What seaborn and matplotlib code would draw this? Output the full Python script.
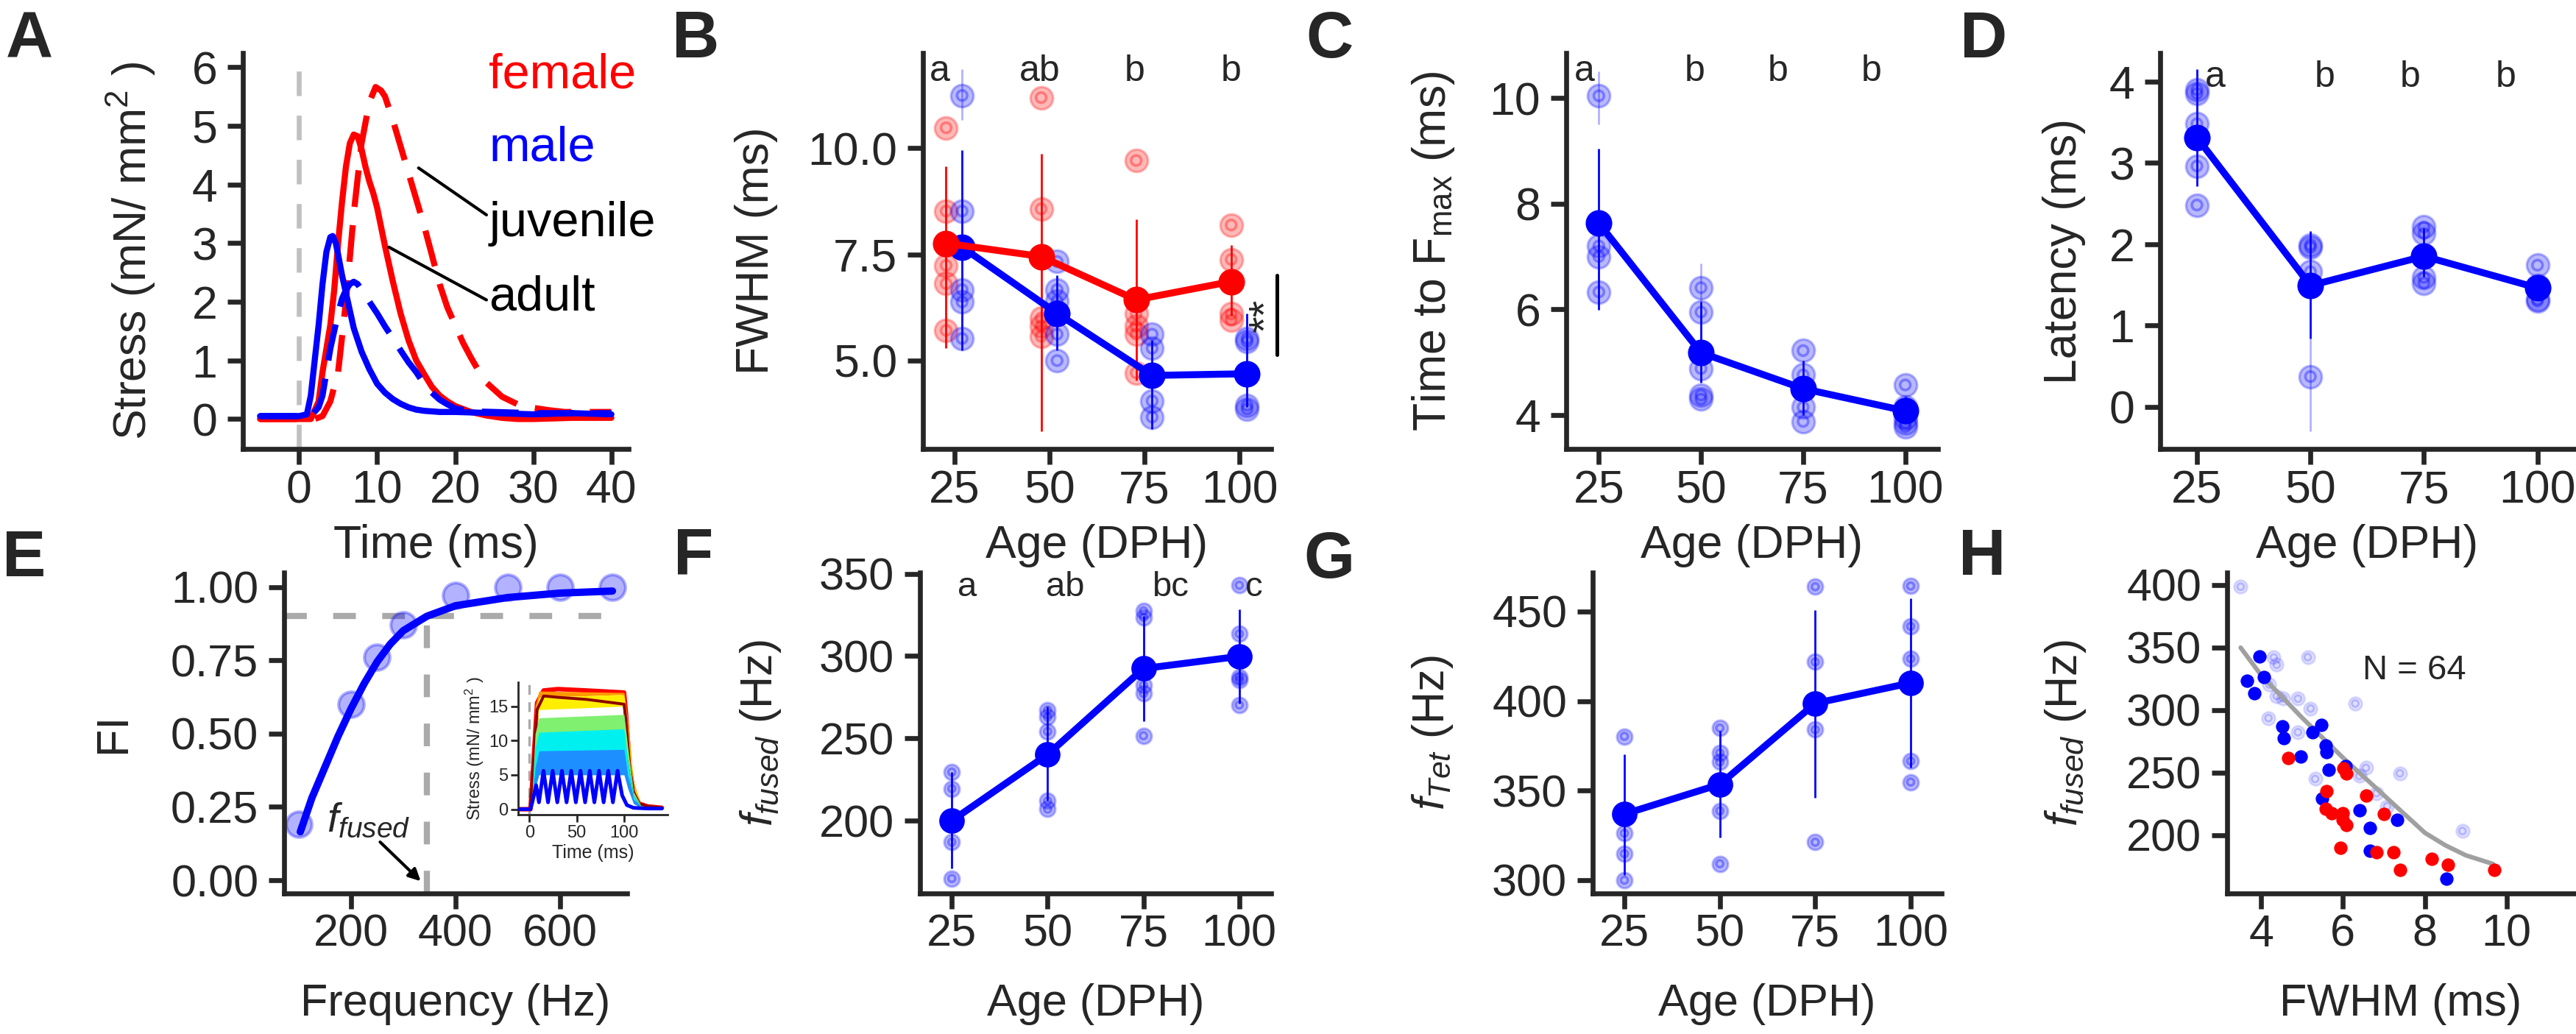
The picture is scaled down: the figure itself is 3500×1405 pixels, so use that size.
import numpy as np
import pandas as pd
import matplotlib
matplotlib.use('Agg')
import matplotlib.pyplot as plt
import seaborn as sns

# --- DATA ---
ages = [25, 50, 75, 100]

# A: twitch traces (time in ms, stress in mN/mm2)
a_fa_t = [-5, 0, 1.5, 2.5, 3.0, 3.5, 4.0, 4.5, 5.0, 5.5, 6.0, 6.5, 7.0, 7.5, 8.0, 8.5, 9.0, 9.5, 10, 11, 12, 13, 14, 15, 16, 17, 18, 19, 20, 22, 24, 26, 28, 30, 35, 40]
a_fa_y = [0, 0, 0, 0.3, 0.8, 1.2, 1.6, 2.2, 3.0, 3.7, 4.3, 4.7, 4.85, 4.82, 4.6, 4.3, 4.05, 3.85, 3.6, 2.95, 2.35, 1.8, 1.35, 1.0, 0.77, 0.55, 0.4, 0.3, 0.22, 0.12, 0.06, 0.02, 0.0, 0.0, 0.02, 0.02]
a_fj_t = [-5, 0, 2, 3, 4, 5, 6, 7, 8, 9, 9.8, 10.5, 11, 12, 13, 14, 15, 16, 17, 18, 19, 20, 21, 22, 23, 24, 26, 28, 30, 32, 34, 36, 38, 40]
a_fj_y = [0, 0, 0, 0.05, 0.3, 0.8, 2.0, 3.5, 4.7, 5.4, 5.66, 5.6, 5.5, 5.1, 4.65, 4.2, 3.75, 3.3, 2.8, 2.3, 1.9, 1.6, 1.3, 1.05, 0.82, 0.62, 0.38, 0.25, 0.19, 0.15, 0.12, 0.12, 0.12, 0.12]
a_ma_t = [-5, 0, 1, 1.5, 2, 2.5, 3, 3.5, 4, 4.3, 4.7, 5, 5.5, 6, 6.5, 7, 8, 9, 10, 11, 12, 13, 14, 15, 16, 18, 20, 25, 30, 35, 40]
a_ma_y = [0.05, 0.05, 0.08, 0.4, 1.0, 1.6, 2.3, 2.85, 3.1, 3.12, 3.0, 2.8, 2.45, 2.15, 1.85, 1.55, 1.15, 0.85, 0.6, 0.45, 0.34, 0.26, 0.2, 0.16, 0.14, 0.12, 0.12, 0.1, 0.08, 0.1, 0.08]
a_mj_t = [-5, 0, 1.5, 2.5, 3, 3.5, 4, 4.5, 5, 5.5, 6, 6.5, 7, 7.5, 8, 9, 10, 11, 12, 13, 14, 15, 16, 17, 18, 19, 20, 22, 25, 30, 35, 40]
a_mj_y = [0.05, 0.05, 0.05, 0.2, 0.4, 0.8, 1.2, 1.5, 1.8, 2.05, 2.2, 2.3, 2.34, 2.3, 2.2, 2.0, 1.8, 1.58, 1.38, 1.17, 0.97, 0.8, 0.6, 0.45, 0.33, 0.25, 0.18, 0.13, 0.12, 0.1, 0.1, 0.1]

# B: FWHM, female (red) and male (blue)
b_red_mean = [7.76, 7.45, 6.43, 6.86]
b_red_lo = [5.29, 3.33, 4.53, 6.05]
b_red_hi = [9.57, 9.86, 8.33, 7.71]
b_blue_mean = [7.67, 6.11, 4.65, 4.69]
b_blue_lo = [5.24, 5.24, 3.38, 3.9]
b_blue_hi = [9.95, 7.0, 5.48, 6.1]
b_red_pts_age = [25] * 6 + [50] * 5 + [75] * 5 + [100] * 4
b_red_pts = [10.48, 8.52, 7.71, 7.24, 6.81, 5.71, 11.19, 8.57, 6.0, 5.81, 5.57,
             9.71, 6.1, 5.81, 5.62, 4.71, 8.19, 7.38, 6.1, 5.95]
b_blue_pts_age = [25] * 5 + [50] * 5 + [75] * 4 + [100] * 4
b_blue_pts = [11.24, 8.52, 6.67, 6.38, 5.52, 7.33, 6.67, 6.4, 5.62, 5.0,
              5.62, 5.29, 4.05, 3.67, 5.52, 5.45, 3.95, 3.86]
b_letters = ['a', 'ab', 'b', 'b']
b_letter_x = [21.1, 47.4, 72.5, 97.7]

# C: time to Fmax
c_mean = [7.63, 5.18, 4.5, 4.08]
c_lo = [5.99, 4.61, 4.0, 3.85]
c_hi = [9.04, 6.14, 5.03, 4.35]
c_pts_age = [25] * 4 + [50] * 5 + [75] * 5 + [100] * 5
c_pts = [10.04, 7.2, 7.0, 6.33, 6.41, 5.95, 4.88, 4.38, 4.3,
         5.22, 4.76, 4.5, 4.15, 3.88, 4.57, 4.15, 3.95, 3.85, 3.78]
c_letters = ['a', 'b', 'b', 'b']
c_letter_x = [21.4, 48.4, 68.8, 91.8]

# D: latency
d_mean = [3.31, 1.49, 1.85, 1.46]
d_lo = [2.71, 0.84, 1.6, 1.38]
d_hi = [4.15, 2.16, 2.2, 1.55]
d_pts_age = [25] * 5 + [50] * 4 + [75] * 4 + [100] * 4
d_pts = [3.9, 3.85, 3.48, 2.96, 2.48, 1.99, 1.96, 1.66, 0.37,
         2.21, 2.13, 1.59, 1.52, 1.74, 1.49, 1.32, 1.3]
d_letters = ['a', 'b', 'b', 'b']
d_letter_x = [29, 53.2, 71.9, 93]

# faint whiskers of single animals (age, low, high)
b_faint = [(27.0, 10.67, 11.86)]
c_faint = [(25, 9.5, 10.5), (50, 6.1, 6.87)]
d_faint = [(50, -0.3, 0.84)]

# E: fusion index vs frequency
e_freq = [100, 200, 250, 300, 400, 500, 600, 700]
e_fi = [0.19, 0.60, 0.76, 0.87, 0.97, 1.0, 1.0, 1.0]
e_fit_f = [103, 125, 150, 175, 200, 225, 250, 275, 300, 345, 400, 500, 600, 700]
e_fit_fi = [0.165, 0.28, 0.385, 0.49, 0.585, 0.67, 0.745, 0.805, 0.851, 0.9, 0.936, 0.964, 0.979, 0.986]

# E inset: tetanic traces
ins_blue_t = [-10, 1, 3, 7, 10, 14.8, 19.6, 24.5, 29.4, 34.3, 39.2, 44.1, 49, 53.9, 58.8,
              63.7, 68.6, 73.5, 78.4, 83.3, 88.2, 93.1, 98, 103, 110, 125, 140]
ins_blue_y = [0, 0, 1.0, 3.5, 1.0, 5.6, 1.0, 5.6, 1.0, 5.6, 1.0, 5.6, 1.0, 5.6, 1.0,
              5.6, 1.0, 5.6, 1.0, 5.6, 1.0, 5.6, 2.0, 0.6, 0.2, 0.1, 0.1]
ins_band_t = [2, 6, 10, 100, 104, 110, 118, 140]
ins_dodger_lo = [0, 3, 5, 5, 3, 0.8, 0.2, 0.1]
ins_dodger_hi = [0, 6, 8.5, 8.7, 5, 1.5, 0.3, 0.1]
ins_cyan_lo = [0, 5, 8, 8, 5, 1.5, 0.3, 0.1]
ins_cyan_hi = [0, 9, 11.2, 11.7, 7, 2, 0.4, 0.1]
ins_green_lo = [0, 7, 10.5, 10.5, 7, 2, 0.4, 0.1]
ins_green_hi = [0, 11, 13.3, 13.8, 9, 2.5, 0.5, 0.1]
ins_yellow_lo = [0, 10, 14.5, 15, 10, 3, 0.5, 0.1]
ins_yellow_hi = [0, 14, 16.3, 16.7, 12, 3.5, 0.6, 0.1]
ins_orange_lo = [0, 12, 16.3, 16.7, 12, 3.5, 0.6, 0.1]
ins_orange_hi = [0, 15, 17.2, 17.0, 13, 4, 0.7, 0.1]
ins_red_t = [-10, 1, 3, 8, 15, 30, 60, 100, 102, 106, 110, 116, 125, 140]
ins_red_y = [0, 0, 4, 15.5, 17.3, 17.5, 17.3, 17.0, 14, 6, 2.5, 0.8, 0.4, 0.2]
ins_dred_t = [1, 3, 8, 15, 30, 60, 100, 102, 106, 110, 116, 125, 140]
ins_dred_y = [0, 4, 14.5, 16.5, 16.3, 16.0, 15.3, 13, 6, 2.5, 0.8, 0.4, 0.2]

# F: f_fused
f_mean = [200, 240.2, 292.4, 299.8]
f_lo = [170.9, 212, 260.2, 271.3]
f_hi = [229.5, 269.3, 324.5, 328.5]
f_pts_age = [25] * 4 + [50] * 5 + [75] * 5 + [100] * 5
f_pts = [229.5, 219.5, 187, 164.9, 267.3, 262.9, 254.2, 212, 207,
         327.5, 323.5, 282.3, 277.3, 251.6, 343, 313.5, 287.3, 285.3, 270.3]
f_letters = ['a', 'ab', 'bc', 'c']
f_letter_x = [29.0, 54.6, 82.0, 103.8]

# G: f_Tet
g_mean = [336.9, 353.5, 398.7, 410.1]
g_lo = [302.8, 324, 346.1, 362.7]
g_hi = [370.1, 383.4, 450.7, 457.5]
g_pts_age = [25] * 4 + [50] * 5 + [75] * 4 + [100] * 5
g_pts = [380.3, 326.2, 314.8, 300, 384.9, 371, 366, 338.7, 309.2,
         463.8, 421.8, 384, 321.2, 464.2, 441.7, 423.6, 366.5, 354.8]

# H: f_fused vs FWHM
h_blue_x = [3.97, 3.66, 4.07, 3.84, 4.52, 4.56, 4.97, 5.26, 5.47, 5.58, 5.6, 5.66, 6.07, 5.49, 6.4, 6.66, 6.66, 7.32, 8.53]
h_blue_y = [342.9, 323.7, 326.6, 313.4, 287, 277.6, 263.2, 282.4, 288.2, 271.8, 266.6, 252.1, 255.5, 229.2, 219.7, 206, 187.6, 212.1, 165.3]
h_red_x = [4.67, 6.01, 6.09, 5.6, 6.56, 5.58, 5.73, 5.99, 5.99, 6.09, 7.0, 5.94, 6.82, 7.23, 7.39, 8.17, 8.56, 9.7]
h_red_y = [261.8, 253.4, 249.5, 235, 231.6, 221, 217.9, 217.9, 212.6, 208.2, 217.1, 189.7, 186.3, 186.3, 172.4, 181, 176.6, 172.6]
h_faint_x = [3.5, 4.31, 4.38, 5.14, 4.2, 4.38, 4.54, 4.9, 5.21, 6.3, 4.18, 4.9, 5.32, 6.4, 6.56, 7.39, 6.82, 7.08, 8.92]
h_faint_y = [398.7, 342.1, 336.3, 342.4, 320.5, 311.3, 309.5, 309.2, 301.3, 305.3, 293.7, 282.4, 245, 247.4, 253.9, 249.5, 233.7, 223.2, 203.4]
h_fit_x = [3.5, 4.0, 4.5, 5.0, 5.5, 6.0, 6.5, 7.0, 7.5, 8.0, 8.5, 9.0, 9.67]
h_fit_y = [350, 328, 311, 294, 278, 262, 247, 232, 217, 202, 192, 184, 177]

# --- STYLE ---
sns.set_style("ticks")
plt.rcParams['font.family'] = ['Liberation Sans', 'DejaVu Sans']
plt.rcParams['mathtext.fontset'] = 'custom'
plt.rcParams['mathtext.rm'] = 'Liberation Sans'
plt.rcParams['mathtext.it'] = 'Liberation Sans:italic'

RED = '#ff0000'
BLUE = '#0000ff'
W, H = 3500, 1405
ROW1 = (72, 610)
ROW2 = (778, 1214)

fig = plt.figure(figsize=(17.5, 7.025), dpi=200)


def box(px_left, px_right, rows):
    top, bottom = rows
    return [px_left / W, 1 - bottom / H, (px_right - px_left) / W, (bottom - top) / H]


def style(ax, xlim, ylim, xticks, yticks, xlabel, ylabel, ylab_x, top_row=True):
    fs = 22.5 if top_row else 22
    ax.set_xlim(*xlim)
    ax.set_ylim(*ylim)
    ax.set_xticks(xticks)
    ax.set_yticks(yticks)
    sns.despine(ax=ax)
    for s in ['left', 'bottom']:
        ax.spines[s].set_linewidth(2.4)
    ax.tick_params(width=2.4, length=7.5, labelsize=fs, direction='out')
    ax.tick_params(axis='x', pad=2.5)
    ax.tick_params(axis='y', pad=5)
    ax.set_xlabel(xlabel, fontsize=fs, va='center')
    ax.set_ylabel(ylabel, fontsize=fs, va='center')
    ax.xaxis.set_label_coords(0.5, -0.2435 if top_row else -0.346)
    ax.yaxis.set_label_coords(ylab_x, 0.5)


def single_pts(ax, x, y, color, d):
    sns.scatterplot(x=x, y=y, ax=ax, s=d ** 2, color=color, alpha=0.28,
                    edgecolor=color, linewidth=1.2, legend=False, zorder=2)
    ax.scatter(x, y, s=(d * 0.45) ** 2, facecolor='none', edgecolor=color,
               alpha=0.35, linewidth=1.3, zorder=2)


def means(ax, x, m, lo, hi, color, ms=13, lw=3.4):
    ax.vlines(x, lo, hi, color=color, lw=1.0, zorder=3)
    sns.lineplot(x=x, y=m, ax=ax, color=color, lw=lw, marker='o', markersize=ms,
                 markeredgewidth=0, zorder=4)


# ---------------- A ----------------
axA = fig.add_axes(box(330, 854, ROW1))
axA.axvline(0, color='#c0c0c0', lw=2.4, dashes=(5, 4), zorder=1)
sns.lineplot(x=a_fj_t, y=a_fj_y, ax=axA, color=RED, lw=3.0)
axA.lines[-1].set_dashes((6, 3))
sns.lineplot(x=a_fa_t, y=a_fa_y, ax=axA, color=RED, lw=3.0)
sns.lineplot(x=a_mj_t, y=a_mj_y, ax=axA, color=BLUE, lw=3.0)
axA.lines[-1].set_dashes((6, 3))
sns.lineplot(x=a_ma_t, y=a_ma_y, ax=axA, color=BLUE, lw=3.0)
axA.plot([15.3, 24.0], [4.28, 3.48], color='black', lw=1.5)
axA.plot([11.5, 24.0], [2.93, 2.03], color='black', lw=1.5)
axA.text(24.3, 5.86, 'female', color=RED, fontsize=24, va='center', ha='left')
axA.text(24.3, 4.62, 'male', color=BLUE, fontsize=24, va='center', ha='left')
axA.text(24.3, 3.33, 'juvenile', color='black', fontsize=24, va='center', ha='left')
axA.text(24.3, 2.07, 'adult', color='black', fontsize=24, va='center', ha='left')
style(axA, (-7.2, 42.2), (-0.51, 6.24), [0, 10, 20, 30, 40], [0, 1, 2, 3, 4, 5, 6],
      'Time (ms)', r'Stress (mN/ mm$^2$ )', -0.29)

# ---------------- B ----------------
axB = fig.add_axes(box(1254, 1727, ROW1))
for x, lo, hi in b_faint:
    axB.vlines(x, lo, hi, color=BLUE, lw=1.0, alpha=0.3)
single_pts(axB, np.array(b_red_pts_age) - 2.2, b_red_pts, RED, 11)
single_pts(axB, np.array(b_blue_pts_age) + 2.0, b_blue_pts, BLUE, 11)
means(axB, np.array(ages) + 2.0, b_blue_mean, b_blue_lo, b_blue_hi, BLUE)
means(axB, np.array(ages) - 2.2, b_red_mean, b_red_lo, b_red_hi, RED)
for t, x in zip(b_letters, b_letter_x):
    axB.text(x, 11.8, t, fontsize=18, ha='center', va='center')
axB.text(107.3, 6.05, '**', fontsize=21, rotation=90, ha='center', va='center', clip_on=False)
axB.plot([109.8, 109.8], [5.14, 7.0], color='black', lw=1.8, clip_on=False)
style(axB, (16.7, 108.3), (2.92, 12.24), ages, [5.0, 7.5, 10.0], 'Age (DPH)', 'FWHM (ms)', -0.478)
axB.set_yticklabels(['5.0', '7.5', '10.0'])

# ---------------- C ----------------
axC = fig.add_axes(box(2128, 2633, ROW1))
for x, lo, hi in c_faint:
    axC.vlines(x, lo, hi, color=BLUE, lw=1.0, alpha=0.3)
single_pts(axC, c_pts_age, c_pts, BLUE, 11)
means(axC, ages, c_mean, c_lo, c_hi, BLUE)
for t, x in zip(c_letters, c_letter_x):
    axC.text(x, 10.5, t, fontsize=18, ha='center', va='center')
style(axC, (17, 108), (3.36, 10.85), ages, [4, 6, 8, 10], 'Age (DPH)',
      r'Time to F$_{\mathrm{max}}$ (ms)', -0.358)

# ---------------- D ----------------
axD = fig.add_axes(box(2935, 3497, ROW1))
for x, lo, hi in d_faint:
    axD.vlines(x, lo, hi, color=BLUE, lw=1.0, alpha=0.3)
single_pts(axD, d_pts_age, d_pts, BLUE, 11)
means(axD, ages, d_mean, d_lo, d_hi, BLUE)
for t, x in zip(d_letters, d_letter_x):
    axD.text(x, 4.05, t, fontsize=18, ha='center', va='center')
style(axD, (16.9, 108), (-0.52, 4.35), ages, [0, 1, 2, 3, 4], 'Age (DPH)', 'Latency (ms)', -0.233)

# ---------------- E ----------------
axE = fig.add_axes(box(386, 852, ROW2))
axE.plot([72, 728], [0.9, 0.9], color='#aaaaaa', lw=3.0, dashes=(3.7, 4.3), zorder=1)
axE.plot([345, 345], [-0.045, 0.9], color='#aaaaaa', lw=3.0, dashes=(3.7, 4.3), zorder=1)
sns.scatterplot(x=e_freq, y=e_fi, ax=axE, s=12.5 ** 2, color=BLUE, alpha=0.3,
                edgecolor=BLUE, linewidth=1.5, legend=False, zorder=2)
sns.lineplot(x=e_fit_f, y=e_fit_fi, ax=axE, color=BLUE, lw=3.6, zorder=3)
axE.text(234, 0.2, r'$f_{fused}$', fontsize=20, ha='center', va='center')
axE.annotate('', xy=(339, -0.013), xytext=(250, 0.14),
             arrowprops=dict(arrowstyle='-|>', color='black', lw=1.5, mutation_scale=12))
style(axE, (72, 728), (-0.045, 1.049), [200, 400, 600], [0, 0.25, 0.5, 0.75, 1.0],
      'Frequency (Hz)', 'FI', -0.496, top_row=False)
axE.set_yticklabels(['0.00', '0.25', '0.50', '0.75', '1.00'])

# inset
axI = fig.add_axes(box(704, 907, (927, 1107)))
axI.axvline(0, color='#aaaaaa', lw=1.2, dashes=(4, 3), zorder=1)
axI.plot(ins_red_t, ins_red_y, color='#ff0000', lw=2.2, zorder=2)
axI.fill_between(ins_band_t, ins_orange_lo, ins_orange_hi, color='#ff9900', lw=0, zorder=3)
axI.fill_between(ins_band_t, ins_yellow_lo, ins_yellow_hi, color='#ffee00', lw=0, zorder=4)
axI.plot(ins_dred_t, ins_dred_y, color='#8b0000', lw=1.4, zorder=5)
axI.fill_between(ins_band_t, ins_green_lo, ins_green_hi, color='#80f070', lw=0, zorder=5)
axI.fill_between(ins_band_t, ins_cyan_lo, ins_cyan_hi, color='#00f0f0', lw=0, zorder=6)
axI.fill_between(ins_band_t, ins_dodger_lo, ins_dodger_hi, color='#1e8fff', lw=0, zorder=7)
axI.plot(ins_blue_t, ins_blue_y, color=BLUE, lw=1.8, zorder=8)
axI.set_xlim(-12, 146)
axI.set_ylim(-0.8, 18.5)
axI.set_xticks([0, 50, 100])
axI.set_yticks([0, 5, 10, 15])
sns.despine(ax=axI)
for s in ['left', 'bottom']:
    axI.spines[s].set_linewidth(1.0)
axI.tick_params(width=1.0, length=3.5, labelsize=8.5, pad=1.5)
axI.set_xlabel('Time (ms)', fontsize=9, labelpad=1.5)
axI.set_ylabel(r'Stress (mN/ mm$^2$ )', fontsize=8.5, labelpad=1.5)

# ---------------- F ----------------
axF = fig.add_axes(box(1250, 1727, ROW2))
single_pts(axF, f_pts_age, f_pts, BLUE, 7.5)
means(axF, ages, f_mean, f_lo, f_hi, BLUE, ms=12.5)
for t, x in zip(f_letters, f_letter_x):
    axF.text(x, 341.6, t, fontsize=17, ha='center', va='center')
style(axF, (16.7, 108.3), (155.8, 350.7), ages, [200, 250, 300, 350], 'Age (DPH)',
      r'$f_{fused}$ (Hz)', -0.453, top_row=False)

# ---------------- G ----------------
axG = fig.add_axes(box(2164, 2638, ROW2))
single_pts(axG, g_pts_age, g_pts, BLUE, 7.5)
means(axG, ages, g_mean, g_lo, g_hi, BLUE, ms=12.5)
style(axG, (16.7, 108.1), (292.6, 471.7), ages, [300, 350, 400, 450], 'Age (DPH)',
      r'$f_{Tet}$ (Hz)', -0.458, top_row=False)

# ---------------- H ----------------
axH = fig.add_axes(box(3026, 3497, ROW2))
sns.scatterplot(x=h_faint_x, y=h_faint_y, ax=axH, s=6.5 ** 2, color=BLUE, alpha=0.12,
                edgecolor=BLUE, linewidth=1.0, legend=False, zorder=1)
axH.scatter(h_faint_x, h_faint_y, s=3.2 ** 2, facecolor='none', edgecolor=BLUE,
            alpha=0.2, linewidth=1.0, zorder=1)
sns.lineplot(x=h_fit_x, y=h_fit_y, ax=axH, color='#a0a0a0', lw=2.2, zorder=2)
sns.scatterplot(x=h_blue_x, y=h_blue_y, ax=axH, s=6.6 ** 2, color=BLUE, linewidth=0,
                legend=False, zorder=3)
sns.scatterplot(x=h_red_x, y=h_red_y, ax=axH, s=6.6 ** 2, color=RED, linewidth=0,
                legend=False, zorder=3)
axH.text(7.75, 332, 'N = 64', fontsize=17, ha='center', va='center')
style(axH, (3.17, 11.64), (153.5, 410), [4, 6, 8, 10], [200, 250, 300, 350, 400],
      'FWHM (ms)', r'$f_{fused}$ (Hz)', -0.465, top_row=False)

# panel letters
for lab, x, y in [('A', 40, 55), ('B', 945, 55), ('C', 1806, 55), ('D', 2695, 55),
                  ('E', 33, 760), ('F', 942, 758), ('G', 1806, 762), ('H', 2693, 758)]:
    fig.text(x / W, 1 - y / H, lab, fontsize=32, fontweight='bold',
             family=['Liberation Sans', 'DejaVu Sans'], ha='center', va='center')

fig.savefig('out.png', dpi=200)
